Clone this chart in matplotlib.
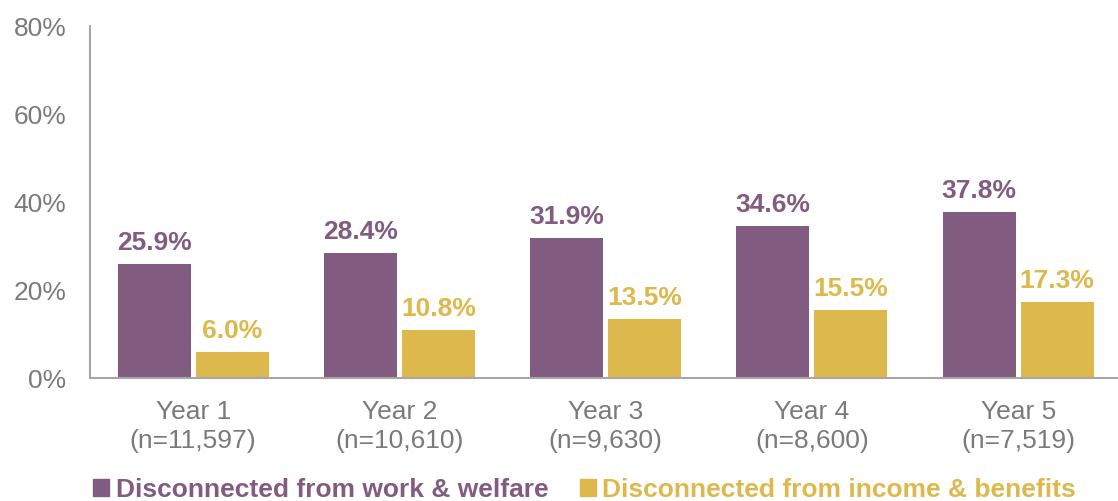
import matplotlib
matplotlib.use("Agg")
import matplotlib.pyplot as plt
import numpy as np
from matplotlib.patches import Patch

plt.rcParams['font.family'] = ['Liberation Sans', 'DejaVu Sans']

years = ["Year 1", "Year 2", "Year 3", "Year 4", "Year 5"]
ns = ["(n=11,597)", "(n=10,610)", "(n=9,630)", "(n=8,600)", "(n=7,519)"]
work_welfare = [25.9, 28.4, 31.9, 34.6, 37.8]
income_benefits = [6.0, 10.8, 13.5, 15.5, 17.3]
series_names = ["Disconnected from work & welfare", "Disconnected from income & benefits"]
colors = ["#825C80", "#DDB84C"]
yticks = [0, 20, 40, 60, 80]

fig = plt.figure(figsize=(11.18, 5.01), dpi=100)
ax = fig.add_axes([0.0805, 0.2455, 0.9225, 0.7025])

x = np.arange(len(years))
w = 0.354
gap = 0.012
b1 = ax.bar(x - w/2 - gap, work_welfare, w, color=colors[0])
b2 = ax.bar(x + w/2 + gap, income_benefits, w, color=colors[1])

for bars, vals, c in ((b1, work_welfare, colors[0]), (b2, income_benefits, colors[1])):
    for rect, v in zip(bars, vals):
        ax.annotate(f"{v:.1f}%", (rect.get_x() + rect.get_width()/2, v),
                    xytext=(0, 6.5), textcoords="offset points", ha="center", va="bottom",
                    fontsize=19, fontweight="bold", color=c)

ax.set_xlim(-0.5, len(years) - 0.5)
ax.set_ylim(0, 80)
ax.set_yticks(yticks)
ax.set_yticklabels([f"{t}%" for t in yticks], fontsize=19, color="#7A7A7A")
ax.set_xticks(x)
ax.set_xticklabels([f"{y}\n{n}" for y, n in zip(years, ns)], fontsize=19, color="#7A7A7A",
                   linespacing=1.27)
ax.tick_params(axis="both", length=0)
ax.tick_params(axis="y", pad=17)
ax.tick_params(axis="x", pad=16)
for s in ["top", "right"]:
    ax.spines[s].set_visible(False)
for s in ["left", "bottom"]:
    ax.spines[s].set_color("#A6A6A6")
    ax.spines[s].set_linewidth(1.5)

handles = [Patch(color=c) for c in colors]
leg = fig.legend(handles, series_names, loc="center", bbox_to_anchor=(0.523, 0.022),
                 ncol=2, frameon=False, handlelength=0.6, handleheight=0.6,
                 handletextpad=0.25, columnspacing=1.2,
                 prop={"size": 19, "weight": "bold"})
for t, c in zip(leg.get_texts(), colors):
    t.set_color(c)

fig.savefig("out.png", dpi=100)
